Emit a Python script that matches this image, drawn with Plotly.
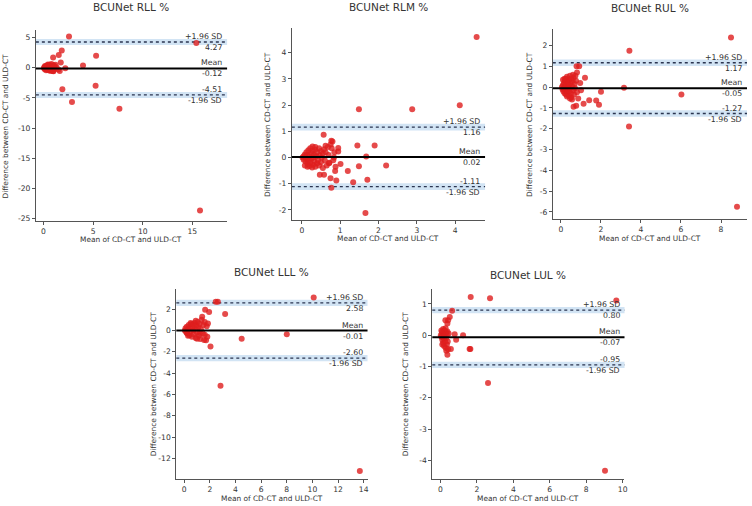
import plotly.graph_objects as go

# ---------------- data ----------------
titles = ["BCUNet RLL %", "BCUNet RLM %", "BCUNet RUL %", "BCUNet LLL %", "BCUNet LUL %"]

# RLL
x_rll = [0.05, 0.1, 0.15, 0.2, 0.2, 0.25, 0.3, 0.3, 0.35, 0.4, 0.4, 0.45, 0.5, 0.5, 0.55, 0.6, 0.6, 0.65,
         0.7, 0.7, 0.75, 0.8, 0.8, 0.85, 0.9, 0.95, 1.0, 1.0, 1.1, 1.2, 0.15, 0.25, 0.35, 0.45, 0.55, 0.65,
         0.9, 1.05, 0.3, 0.1, 1.64, 0.97, 1.3, 1.5,
         2.57, 15.4, 1.84, 1.54, 0.97, 1.74, 3.98, 5.3, 2.2, 1.9, 2.87, 5.25, 7.65, 15.77]
y_rll = [0.0, 0.1, -0.1, 0.2, -0.2, 0.05, 0.3, -0.3, 0.1, -0.1, 0.4, 0.2, -0.4, 0.0, 0.3, -0.2, 0.5, 0.1,
         -0.5, 0.3, -0.1, 0.6, 0.2, -0.3, 0.0, 0.4, -0.6, 0.15, -0.2, 0.5, 0.3, -0.4, -0.25, 0.55, -0.15, -0.45,
         -0.5, 0.35, 0.05, -0.2, -0.55, -0.55, 0.1, -0.3,
         5.2, 4.1, 2.85, 2.1, 1.7, 0.85, 0.35, 2.0, -0.1, -3.55, -5.7, -3.0, -6.8, -23.7]

# RLM
x_rlm = [0.02, 0.05, 0.05, 0.08, 0.1, 0.1, 0.12, 0.13, 0.15, 0.15, 0.17, 0.18, 0.2, 0.2, 0.22, 0.23, 0.25,
         0.25, 0.27, 0.28, 0.3, 0.3, 0.32, 0.33, 0.35, 0.35, 0.38, 0.4, 0.4, 0.42, 0.45, 0.45, 0.47, 0.5, 0.5,
         0.52, 0.55, 0.55, 0.58, 0.6, 0.62, 0.65, 0.68, 0.7, 0.72, 0.75, 0.78, 0.82, 0.85, 0.88, 0.35, 0.15,
         0.08, 0.28, 0.62,
         4.56, 1.49, 2.88, 4.12, 0.57, 0.8, 1.45, 1.9, 1.68, 2.2, 1.49, 1.2, 1.01, 1.71, 1.34, 0.9, 0.77,
         1.66, 0.75, 0.47, 0.58, 0.87, 0.95, 0.95, 0.71, 0.84, 0.77]
y_rlm = [0.0, 0.05, -0.08, 0.12, -0.15, 0.02, 0.2, -0.05, -0.25, 0.1, 0.28, -0.12, 0.05, -0.32, 0.35, -0.2,
         0.15, -0.05, -0.38, 0.25, 0.0, -0.28, 0.1, -0.15, 0.3, -0.35, 0.05, -0.22, 0.2, -0.1, 0.35, -0.3,
         0.08, -0.18, 0.25, 0.0, -0.4, 0.15, 0.32, -0.1, 0.2, -0.3, 0.4, 0.1, -0.2, 0.5, 0.35, -0.1, 0.2,
         -0.35, 0.4, -0.35, -0.3, 0.42, 0.45,
         4.6, 1.84, 1.84, 2.0, 0.87, 0.61, 0.46, 0.46, 0.04, -0.3, -0.33, -0.51, -0.25, -0.85, -0.94, -0.88,
         -1.15, -2.12, -0.79, -0.66, -0.66, -0.51, 0.36, 0.23, -0.22, 0.0, 0.64]

# RUL
x_rul = [0.05, 0.08, 0.1, 0.12, 0.15, 0.15, 0.18, 0.2, 0.2, 0.22, 0.25, 0.25, 0.28, 0.3, 0.3, 0.32, 0.35,
         0.35, 0.38, 0.4, 0.4, 0.42, 0.45, 0.45, 0.48, 0.5, 0.5, 0.52, 0.55, 0.58, 0.6, 0.62, 0.65, 0.68,
         0.7, 0.72, 0.75, 0.8, 0.1, 0.18, 0.3, 0.45, 0.55, 0.6,
         8.5, 3.42, 3.4, 8.8, 3.15, 6.02, 2.0, 1.9, 1.76, 1.41, 1.13, 1.2, 0.91, 0.78, 0.8, 0.63, 0.76,
         0.86, 0.96, 1.0]
y_rul = [0.0, -0.1, 0.1, -0.2, 0.2, -0.05, -0.3, 0.3, 0.05, -0.15, 0.4, -0.35, 0.15, -0.1, 0.5, -0.25,
         0.25, 0.0, -0.4, 0.1, 0.35, -0.2, 0.55, -0.05, 0.2, -0.3, 0.4, -0.5, 0.05, 0.3, -0.15, 0.45, -0.35,
         0.15, -0.05, 0.55, 0.3, -0.25, 0.35, 0.4, -0.45, -0.55, -0.6, 0.6,
         2.38, 1.75, -1.9, -5.75, -0.03, -0.35, -0.22, -0.85, -0.65, -0.63, -0.8, 0.45, 1.0, 1.0, 0.7,
         -0.95, -0.9, -0.55, 0.2, -0.15]

# LLL
x_lll = [0.05, 0.1, 0.15, 0.2, 0.25, 0.3, 0.35, 0.4, 0.45, 0.5, 0.55, 0.6, 0.65, 0.7, 0.75, 0.8, 0.85, 0.9,
         0.95, 1.0, 1.05, 1.1, 1.15, 1.2, 1.25, 1.3, 1.35, 1.4, 1.45, 1.5, 1.55, 1.6, 1.7, 1.75, 1.8, 1.85,
         1.0, 0.3, 0.5, 0.7, 0.9, 1.2, 1.6, 0.2,
         2.46, 2.62, 3.19, 1.63, 1.94, 4.48, 2.05, 2.83, 8.0, 10.1, 13.7]
y_lll = [0.0, 0.2, -0.15, 0.35, -0.3, 0.1, 0.5, -0.45, 0.25, -0.1, 0.6, -0.6, 0.3, 0.0, -0.35, 0.7, 0.15,
         -0.7, 0.45, -0.2, 0.8, 0.3, -0.5, 0.6, -0.8, 0.1, 1.0, 1.28, -0.3, 0.5, -0.9, 0.8, -0.93, 0.4,
         -0.6, 0.65, -0.78, -0.5, 0.7, 0.55, 0.9, -0.25, -0.4, -0.25,
         2.7, 2.7, 1.53, 1.93, 1.72, -0.78, -1.52, -5.2, -0.37, 3.1, -13.2]

# LUL
x_lul = [0.02, 0.05, 0.08, 0.1, 0.12, 0.15, 0.15, 0.18, 0.2, 0.2, 0.22, 0.25, 0.25, 0.28, 0.3, 0.3, 0.32,
         0.35, 0.35, 0.38, 0.4, 0.42, 0.45, 0.1, 0.05, 0.28, 0.38,
         9.65, 9.03, 1.66, 2.72, 2.61, 0.64, 1.6, 1.64, 1.24, 0.78, 0.86, 0.57, 0.51, 0.42, 0.38, 0.27]
y_lul = [0.0, -0.05, 0.1, -0.15, 0.05, -0.25, 0.2, -0.1, 0.0, -0.35, 0.15, -0.2, 0.05, -0.4, 0.1, -0.1,
         -0.5, 0.0, -0.3, 0.12, -0.2, -0.45, 0.05, -0.3, 0.15, 0.22, -0.63,
         1.11, -4.33, 1.22, 1.18, -1.53, 0.78, -0.44, -0.44, 0.0, 0.03, -0.15, -0.44, 0.58, 0.48, 0.37, 0.48]

# mean difference and limits of agreement (upper, mean, lower)
upper_loa = [4.27, 1.16, 1.17, 2.58, 0.80]
mean_diff = [-0.12, 0.02, -0.05, -0.01, -0.07]
lower_loa = [-4.51, -1.11, -1.27, -2.60, -0.95]
loa_ci_half = [0.5, 0.13, 0.16, 0.3, 0.1]   # half-width of shaded confidence band

xs = [x_rll, x_rlm, x_rul, x_lll, x_lul]
ys = [y_rll, y_rlm, y_rul, y_lll, y_lul]

x_ranges = [[-0.77, 18.5], [-0.26, 4.78], [-0.41, 9.3], [-0.62, 14.3], [-0.45, 10.1]]
y_ranges = [[-25.45, 6.28], [-2.39, 4.95], [-6.35, 2.8], [-13.95, 3.9], [-4.6, 1.48]]
x_ticks = [[0, 5, 10, 15], [0, 1, 2, 3, 4], [0, 2, 4, 6, 8], [0, 2, 4, 6, 8, 10, 12, 14], [0, 2, 4, 6, 8, 10]]
y_ticks = [[-25, -20, -15, -10, -5, 0, 5], [-2, -1, 0, 1, 2, 3, 4], [-6, -5, -4, -3, -2, -1, 0, 1, 2],
           [-12, -10, -8, -6, -4, -2, 0, 2], [-4, -3, -2, -1, 0, 1]]

# ---------------- layout geometry (pixels) ----------------
W, H = 752, 506
px_x = [(36, 228), (293, 487), (555, 750), (177, 369), (434, 627)]
px_y = [(30, 222), (28, 221), (29, 220), (290, 481), (290, 481)]
title_y = [7, 7, 8, 273, 276]
xlabel_y = [240, 239, 239, 500, 500]
ylabel_x = [6, 268, 531, 155, 408]

FONT = "DejaVu Sans"
TXT = "#333333"
TICK_FS, LABEL_FS, ANN_FS, TITLE_FS = 7.6, 7.4, 7.8, 10.5

fig = go.Figure()
layout = dict(
    width=W, height=H, margin=dict(l=0, r=0, t=0, b=0),
    paper_bgcolor="white", plot_bgcolor="white", showlegend=False,
    font=dict(family=FONT, size=TICK_FS, color=TXT),
)
shapes, annotations = [], []

for i in range(5):
    n = "" if i == 0 else str(i + 1)
    xa, ya = "x" + n, "y" + n
    x0, x1 = px_x[i]
    y0, y1 = px_y[i]
    layout["xaxis" + n] = dict(
        domain=[x0 / W, x1 / W], anchor=ya, range=x_ranges[i], tickvals=x_ticks[i],
        ticktext=[str(v) for v in x_ticks[i]],
        showgrid=False, zeroline=False, showline=True, linecolor="#555", linewidth=1,
        ticks="outside", ticklen=3, tickcolor="#555", tickfont=dict(size=TICK_FS, color=TXT),
    )
    layout["yaxis" + n] = dict(
        domain=[1 - y1 / H, 1 - y0 / H], anchor=xa, range=y_ranges[i], tickvals=y_ticks[i],
        ticktext=[str(v) for v in y_ticks[i]],
        showgrid=False, zeroline=False, showline=True, linecolor="#555", linewidth=1,
        ticks="outside", ticklen=3, tickcolor="#555", tickfont=dict(size=TICK_FS, color=TXT),
    )

    # bands and lines
    for lvl in (upper_loa[i], lower_loa[i]):
        shapes.append(dict(type="rect", xref=xa + " domain", yref=ya, x0=0, x1=1,
                           y0=lvl - loa_ci_half[i], y1=lvl + loa_ci_half[i],
                           fillcolor="rgba(173,206,235,0.55)", line=dict(width=0), layer="below"))
        shapes.append(dict(type="line", xref=xa + " domain", yref=ya, x0=0, x1=1, y0=lvl, y1=lvl,
                           line=dict(color="#2b3550", width=1.4, dash="dot"), layer="below"))
    shapes.append(dict(type="line", xref=xa + " domain", yref=ya, x0=0, x1=1,
                       y0=mean_diff[i], y1=mean_diff[i], line=dict(color="black", width=2), layer="above"))

    fig.add_trace(go.Scatter(
        x=xs[i], y=ys[i], mode="markers", xaxis=xa, yaxis=ya,
        marker=dict(color="rgba(222,30,30,0.8)", size=6, line=dict(width=0)),
        hoverinfo="skip",
    ))

    labels = [
        (upper_loa[i], "+1.96 SD", "bottom"), (upper_loa[i], f"{upper_loa[i]:.2f}", "top"),
        (mean_diff[i], "Mean", "bottom"), (mean_diff[i], f"{mean_diff[i]:.2f}", "top"),
        (lower_loa[i], f"{lower_loa[i]:.2f}", "bottom"), (lower_loa[i], "-1.96 SD", "top"),
    ]
    for yv, txt, anc in labels:
        annotations.append(dict(
            xref=xa + " domain", yref=ya, x=0.985, y=yv, text=txt, showarrow=False,
            xanchor="right", yanchor=anc, font=dict(size=ANN_FS, color=TXT),
            yshift=-1 if anc == "bottom" else 1,
        ))

    # titles / axis labels
    annotations.append(dict(xref="paper", yref="paper", x=(x0 + x1) / 2 / W, y=1 - title_y[i] / H,
                            text=titles[i], showarrow=False, xanchor="center", yanchor="middle",
                            font=dict(size=TITLE_FS, color=TXT)))
    annotations.append(dict(xref="paper", yref="paper", x=(x0 + x1) / 2 / W, y=1 - xlabel_y[i] / H,
                            text="Mean of CD-CT and ULD-CT", showarrow=False, xanchor="center",
                            yanchor="middle", font=dict(size=LABEL_FS, color=TXT)))
    annotations.append(dict(xref="paper", yref="paper", x=ylabel_x[i] / W, y=1 - (y0 + y1) / 2 / H,
                            text="Difference between CD-CT and ULD-CT", showarrow=False, textangle=-90,
                            xanchor="center", yanchor="middle", font=dict(size=LABEL_FS, color=TXT)))

layout["shapes"] = shapes
layout["annotations"] = annotations
fig.update_layout(**layout)
fig.write_html("out.html", config={"displayModeBar": False},
               post_script="document.body.style.margin='0';document.body.style.overflow='hidden';")
